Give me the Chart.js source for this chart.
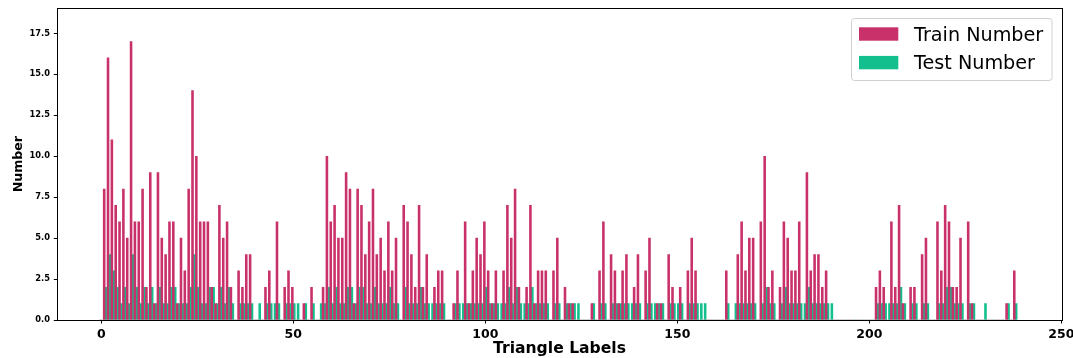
<!DOCTYPE html>
<html>
<head>
<meta charset="utf-8">
<script src="https://cdn.jsdelivr.net/npm/chart.js@4.4.1/dist/chart.umd.min.js"></script>
<style>
  html, body { margin: 0; padding: 0; background: #ffffff; }
  #wrap { width: 1073px; height: 358px; position: relative; }
</style>
</head>
<body>
<div id="wrap"><canvas id="c" width="1073" height="358"></canvas></div>
<script>
// Triangle label categories
const categories = [
  0,1,2,3,4,5,6,7,8,9,10,11,12,13,14,15,16,17,18,19,
  20,21,22,23,24,25,26,27,28,29,30,31,32,33,34,35,36,37,38,39,
  40,41,42,43,44,45,46,47,48,49,50,51,52,53,54,55,56,57,58,59,
  60,61,62,63,64,65,66,67,68,69,70,71,72,73,74,75,76,77,78,79,
  80,81,82,83,84,85,86,87,88,89,90,91,92,93,94,95,96,97,98,99,
  100,101,102,103,104,105,106,107,108,109,110,111,112,113,114,115,116,117,118,119,
  120,121,122,123,124,125,126,127,128,129,130,131,132,133,134,135,136,137,138,139,
  140,141,142,143,144,145,146,147,148,149,150,151,152,153,154,155,156,157,158,159,
  160,161,162,163,164,165,166,167,168,169,170,171,172,173,174,175,176,177,178,179,
  180,181,182,183,184,185,186,187,188,189,190,191,192,193,194,195,196,197,198,199,
  200,201,202,203,204,205,206,207,208,209,210,211,212,213,214,215,216,217,218,219,
  220,221,222,223,224,225,226,227,228,229,230,231,232,233,234,235,236,237,238
];

const trainNumber = [
  0,8,16,11,7,6,8,5,17,6,
  6,8,2,9,1,9,5,4,6,6,
  1,5,3,8,14,10,6,6,6,2,
  1,7,5,6,2,0,3,2,4,4,
  0,0,0,2,3,0,6,0,2,3,
  2,0,0,1,0,2,0,0,2,10,
  6,7,5,5,9,8,1,8,7,4,
  6,8,4,5,3,6,3,5,0,7,
  6,4,2,7,2,4,0,2,3,3,
  0,0,1,3,0,6,1,3,5,4,
  6,3,1,3,0,3,7,5,8,2,
  0,2,7,1,3,3,3,0,3,5,
  0,2,1,1,0,0,0,0,1,0,
  3,6,0,4,3,1,3,4,0,2,
  4,0,3,5,0,1,1,0,4,2,
  0,2,0,3,5,3,0,0,0,0,
  0,0,0,3,0,0,4,6,3,5,
  5,0,6,10,2,3,0,2,6,5,
  3,3,6,0,9,3,4,4,2,3,
  0,0,0,0,0,0,0,0,0,0,
  0,0,2,3,2,0,6,2,7,1,
  0,2,2,0,4,5,0,0,6,3,
  7,6,2,2,5,0,6,1,0,0,
  0,0,0,0,0,0,1,0,3
];

const testNumber = [
  0,2,4,3,2,1,2,1,4,2,
  1,2,1,2,1,2,1,1,2,2,
  1,1,1,2,4,2,1,1,2,2,
  1,2,1,2,1,0,1,1,1,1,
  0,1,0,1,1,1,1,0,1,1,
  1,1,0,1,0,1,0,1,1,2,
  1,2,1,1,2,2,1,2,2,1,
  1,2,1,1,1,2,1,1,0,2,
  1,1,1,2,1,1,1,1,1,1,
  0,0,1,1,1,1,1,1,1,1,
  2,1,1,1,1,1,2,1,2,1,
  1,1,2,1,1,1,1,0,1,1,
  0,1,1,1,1,0,0,0,1,0,
  1,1,0,1,1,1,1,1,1,1,
  1,0,1,1,1,1,1,0,1,1,
  1,1,0,1,1,1,1,1,0,0,
  0,0,0,1,0,1,1,1,1,1,
  1,0,1,2,1,1,0,1,2,1,
  1,1,1,1,2,1,1,1,1,1,
  1,0,0,0,0,0,0,0,0,0,
  0,0,1,1,1,1,1,1,2,1,
  0,1,1,0,1,1,0,0,1,1,
  2,2,1,1,1,0,1,1,0,0,
  1,0,0,0,0,0,1,0,1
];

const xTickValues = [0, 50, 100, 150, 200, 250];
const yTickValues = [0, 2.5, 5, 7.5, 10, 12.5, 15, 17.5];
const seriesNames = ['Train Number', 'Test Number'];

const TRAIN_COLOR = '#c8316a';
const TEST_COLOR = '#12bf8d';

const framePlugin = {
  id: 'frame',
  afterDraw(chart) {
    const {ctx, chartArea: a} = chart;
    ctx.save();
    ctx.strokeStyle = '#000000';
    ctx.lineWidth = 1;
    ctx.strokeRect(Math.round(a.left) + 0.5, Math.round(a.top) + 0.5,
                   Math.round(a.right) - Math.round(a.left), Math.round(a.bottom) - Math.round(a.top));
    ctx.restore();
  }
};

const boxLegendPlugin = {
  id: 'boxLegend',
  afterDraw(chart) {
    const ctx = chart.ctx;
    ctx.save();
    const bx = 851.5, by = 18.5, bw = 200.5, bh = 62, r = 3;
    ctx.beginPath();
    ctx.moveTo(bx + r, by);
    ctx.lineTo(bx + bw - r, by);
    ctx.arcTo(bx + bw, by, bx + bw, by + r, r);
    ctx.lineTo(bx + bw, by + bh - r);
    ctx.arcTo(bx + bw, by + bh, bx + bw - r, by + bh, r);
    ctx.lineTo(bx + r, by + bh);
    ctx.arcTo(bx, by + bh, bx, by + bh - r, r);
    ctx.lineTo(bx, by + r);
    ctx.arcTo(bx, by, bx + r, by, r);
    ctx.closePath();
    ctx.fillStyle = 'rgba(255,255,255,0.8)';
    ctx.fill();
    ctx.strokeStyle = '#d0d0d0';
    ctx.lineWidth = 1;
    ctx.stroke();
    ctx.font = '19.2px "DejaVu Sans"';
    ctx.textBaseline = 'alphabetic';
    ctx.textAlign = 'left';
    chart.data.datasets.forEach((ds, i) => {
      ctx.fillStyle = ds.backgroundColor;
      ctx.fillRect(859, 27.3 + i * 28.6, 39.3, 13.4);
      ctx.fillStyle = '#000000';
      ctx.fillText(ds.label, 914, 41 + i * 28.4);
    });
    ctx.restore();
  }
};

new Chart(document.getElementById('c'), {
  type: 'bar',
  data: {
    labels: categories,
    datasets: [
      { label: seriesNames[0], data: trainNumber, backgroundColor: TRAIN_COLOR, borderWidth: 0,
        categoryPercentage: 1.0, barPercentage: 1.0 },
      { label: seriesNames[1], data: testNumber, backgroundColor: TEST_COLOR, borderWidth: 0,
        categoryPercentage: 1.0, barPercentage: 1.0 }
    ]
  },
  options: {
    responsive: false,
    animation: false,
    devicePixelRatio: 1,
    layout: { padding: { left: 0, right: 11.3, top: 8.3, bottom: 0 } },
    plugins: { legend: { display: false }, tooltip: { enabled: false } },
    scales: {
      x: {
        type: 'linear',
        offset: false,
        min: -11.46,
        max: 250.1,
        afterBuildTicks(scale) { scale.ticks = xTickValues.map(v => ({ value: v })); },
        afterFit(scale) { scale.height = 38; scale.paddingLeft = 0; scale.paddingRight = 0; },
        ticks: {
          autoSkip: false, maxRotation: 0, padding: 3.3, color: '#000000',
          font: { family: 'DejaVu Sans', size: 12.5, weight: 'bold' },
          callback: (v) => String(v)
        },
        grid: { display: true, offset: false, drawOnChartArea: false, drawTicks: true, tickLength: 3.5, color: '#000000', lineWidth: 1 },
        border: { display: false },
        title: {
          display: true, text: 'Triangle Labels', color: '#000000',
          font: { family: 'DejaVu Sans', size: 15.6, weight: 'bold', lineHeight: 1.0 },
          padding: { top: 0, bottom: 0.8 }
        }
      },
      y: {
        min: 0,
        max: 19.03,
        afterBuildTicks(scale) { scale.ticks = yTickValues.map(v => ({ value: v })); },
        afterFit(scale) { scale.width = 57.3; scale.paddingTop = 0; scale.paddingBottom = 0; },
        ticks: {
          padding: 3.8, color: '#000000',
          font: { family: 'DejaVu Sans', size: 8.3, weight: 'bold' },
          callback: (v) => Number(v).toFixed(1)
        },
        grid: { display: true, drawOnChartArea: false, drawTicks: true, tickLength: 3.5, color: '#000000', lineWidth: 1 },
        border: { display: false },
        title: {
          display: true, text: 'Number', color: '#000000',
          font: { family: 'DejaVu Sans', size: 12.6, weight: 'bold' },
          padding: { top: 11.6, bottom: 0 }
        }
      }
    }
  },
  plugins: [framePlugin, boxLegendPlugin]
});
</script>
</body>
</html>
